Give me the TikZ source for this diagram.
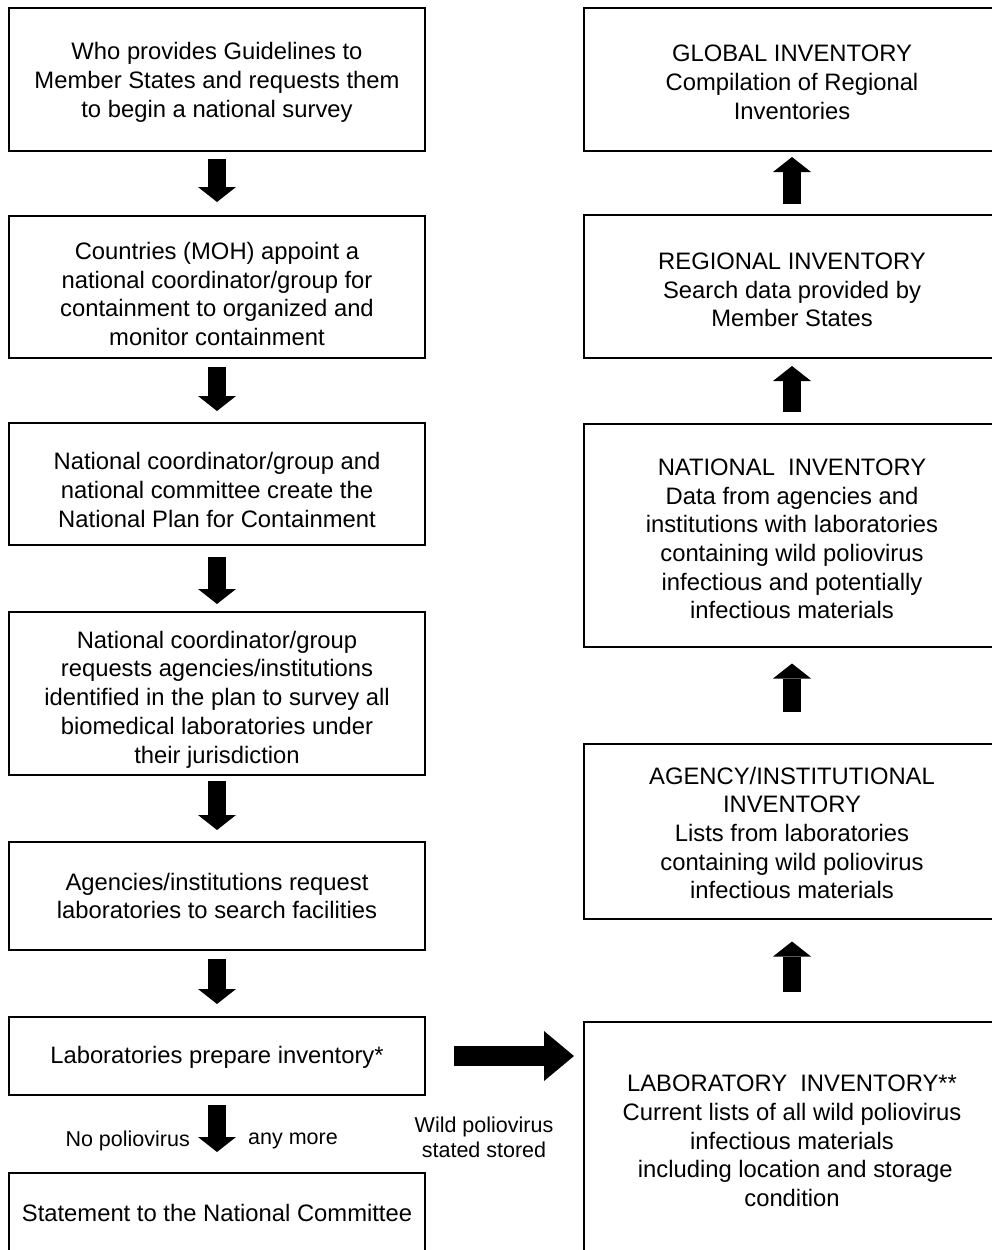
\documentclass[tikz,border=0pt]{standalone}
\usepackage{fontspec}
\setmainfont{Liberation Sans}
\usetikzlibrary{arrows.meta}
\begin{document}
\begin{tikzpicture}[x=1pt,y=-1pt,
  box/.style={draw, line width=2pt, minimum width=416pt, inner sep=0pt},
  txt/.style={align=center, inner sep=0pt, font=\fontsize{23.8}{28.7}\selectfont},
  blk/.style={line width=18pt, -{Triangle[width=38pt,length=15pt,line width=0pt]}},
  hblk/.style={line width=20pt, -{Triangle[width=50pt,length=30pt,line width=0pt]}},
  lbl/.style={font=\fontsize{21.5}{25}\selectfont, align=center, inner sep=0pt}]
\useasboundingbox (0,0) rectangle (992,1250);
\clip (0,0) rectangle (992,1250);
\fill[white] (0,0) rectangle (992,1250);

% left column boxes
\node[box, minimum height=143pt] (b1) at (217,79.5) {};
\node[box, minimum height=142pt] (b2) at (217,287) {};
\node[box, minimum height=122pt] (b3) at (217,484) {};
\node[box, minimum height=163pt] (b4) at (217,693.5) {};
\node[box, minimum height=108pt] (b5) at (217,896) {};
\node[box, minimum height=78pt] (b6) at (217,1056) {};
\node[box, minimum height=80pt] (b7) at (217,1213) {};
% left column texts
\node[txt] (t1) at ([yshift=-3pt]b1.center) {Who provides Guidelines to\\Member States and requests them\\to begin a national survey};
\node[txt] (t2) at ([yshift=-7pt]b2.center) {Countries (MOH) appoint a\\national coordinator/group for\\containment to organized and\\monitor containment};
\node[txt] (t3) at ([yshift=-6pt]b3.center) {National coordinator/group and\\national committee create the\\National Plan for Containment};
\node[txt] (t4) at ([yshift=-6pt]b4.center) {National coordinator/group\\requests agencies/institutions\\identified in the plan to survey all\\biomedical laboratories under\\their jurisdiction};
\node[txt] (t5) at (b5.center) {Agencies/institutions request\\laboratories to search facilities};
\node[txt] (t6) at ([yshift=-1pt]b6.center) {Laboratories prepare inventory*};
\node[txt] (t7) at (b7.center) {Statement to the National Committee};

% right column boxes
\node[box, minimum height=143pt] (r1) at (792,79.5) {};
\node[box, minimum height=143pt] (r2) at (792,286.5) {};
\node[box, minimum height=223pt] (r3) at (792,535) {};
\node[box, minimum height=175pt] (r4) at (792,831) {};
\node[box, minimum height=236pt] (r5) at (792,1140) {};
% right column texts
\node[txt] (s1) at ([yshift=-3pt]r1.center) {GLOBAL INVENTORY\\Compilation of Regional\\Inventories};
\node[txt] (s2) at ([yshift=-3.5pt]r2.center) {REGIONAL INVENTORY\\Search data provided by\\Member States};
\node[txt] (s3) at ([yshift=-4pt]r3.center) {NATIONAL\ \ INVENTORY\\Data from agencies and\\institutions with laboratories\\containing wild poliovirus\\infectious and potentially\\infectious materials};
\node[txt] (s4) at ([yshift=-2pt]r4.center) {AGENCY/INSTITUTIONAL\\INVENTORY\\Lists from laboratories\\containing wild poliovirus\\infectious materials};
\node[txt] (s5) at ([yshift=-1pt]r5.center) {LABORATORY\ \ INVENTORY**\\Current lists of all wild poliovirus\\infectious materials\\\ including location and storage\\condition};

% left arrows
\draw[blk, shorten <=7pt, shorten >=13pt] (b1.south) -- (b2.north);
\draw[blk, shorten <=8pt, shorten >=11pt] (b2.south) -- (b3.north);
\draw[blk, shorten <=11pt, shorten >=7pt] (b3.south) -- (b4.north);
\draw[blk, shorten <=5pt, shorten >=11pt] (b4.south) -- (b5.north);
\draw[blk, shorten <=8pt, shorten >=12pt] (b5.south) -- (b6.north);
\draw[blk, shorten <=9pt, shorten >=20pt] (b6.south) -- (b7.north);

% right arrows
\draw[blk, shorten <=10pt, shorten >=5pt] (r2.north) -- (r1.south);
\draw[blk, shorten <=11pt, shorten >=7pt] (r3.north) -- (r2.south);
\draw[blk, shorten <=31pt, shorten >=16pt] (r4.north) -- (r3.south);
\draw[blk, shorten <=29pt, shorten >=22pt] (r5.north) -- (r4.south);

% horizontal arrow
\draw[hblk, shorten <=28pt, shorten >=9pt] (b6.east) -- (b6.east -| r5.west);

% labels
\node[lbl, anchor=east] (lno) at (190,1141) {No poliovirus};
\node[lbl, anchor=west] (lany) at (248,1141) {any more};
\node[lbl] (lwild) at (484,1137) {Wild poliovirus\\stated stored};
\end{tikzpicture}
\end{document}
